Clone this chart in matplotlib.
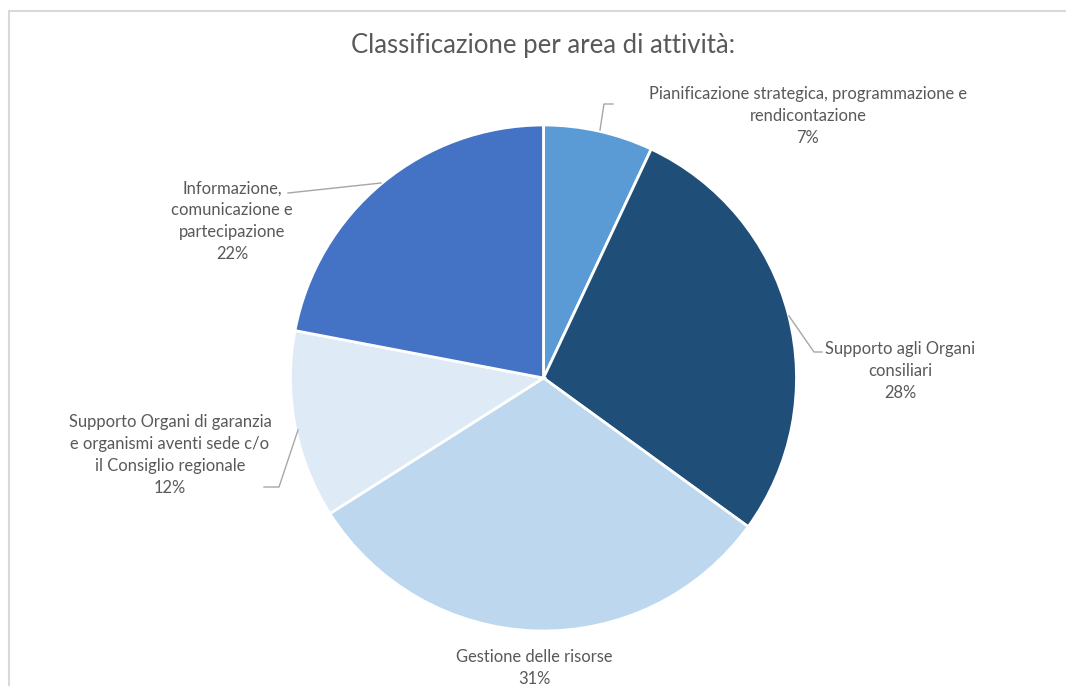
import numpy as np
import matplotlib.pyplot as plt
from matplotlib.patches import Rectangle

# data (clockwise from 12 o'clock)
categories = ['Pianificazione strategica, programmazione e\nrendicontazione',
              'Supporto agli Organi\nconsiliari',
              'Gestione delle risorse',
              'Supporto Organi di garanzia\ne organismi aventi sede c/o\nil Consiglio regionale',
              'Informazione,\ncomunicazione e\npartecipazione']
shares = [7, 28, 31, 12, 22]
colors = ['#5B9BD5', '#1F4E79', '#BDD7EE', '#DEEBF7', '#4472C4']
title = 'Classificazione per area di attività:'

W, H = 1066, 686
CX, CY, R = 543.5, 378, 253   # pie centre / radius in pixels

def px(x, y):
    # pixel position -> data units (pie radius = 1)
    return (x - CX) / R, (CY - y) / R

plt.rcParams['font.family'] = ['Lato', 'DejaVu Sans']
txt_col = '#595959'
line_col = '#A6A6A6'

fig = plt.figure(figsize=(W / 100, H / 100), dpi=100)
ax = fig.add_axes([0, 0, 1, 1])

ax.pie(shares, colors=colors, startangle=90, counterclock=False, radius=1,
       wedgeprops=dict(edgecolor='white', linewidth=2))
ax.set_xlim(-CX / R, (W - CX) / R)
ax.set_ylim(-(H - CY) / R, CY / R)
ax.axis('off')

# label layout: text centre (px), leader line points (px)
label_pos = [(808, 116), (900, 371), (534, 668), (170, 455), (232, 221)]
leaders = [[(600, 130), (604, 104), (613, 104)],
           [(789, 316), (814, 352), (822, 352)],
           None,
           [(298, 430), (279, 487), (264, 487)],
           [(381, 183), (288, 193)]]

for cat, val, pos, ld in zip(categories, shares, label_pos, leaders):
    x, y = px(*pos)
    ax.text(x, y, f'{cat}\n{val}%', ha='center', va='center',
            fontsize=11.9, color=txt_col, linespacing=1.45)
    if ld:
        pts = np.array([px(a, b) for a, b in ld])
        ax.plot(pts[:, 0], pts[:, 1], color=line_col, lw=1)

tx, ty = px(543, 45)
ax.text(tx, ty, title, ha='center', va='center', fontsize=18.5, color=txt_col)

# chart frame (cut at right/bottom)
fig.patches.append(Rectangle((9 / W, -0.1), 1.2, 1 - 11 / H + 0.1,
                             transform=fig.transFigure, fill=False,
                             edgecolor='#D9D9D9', lw=1.5))

fig.savefig('out.png', dpi=100)
